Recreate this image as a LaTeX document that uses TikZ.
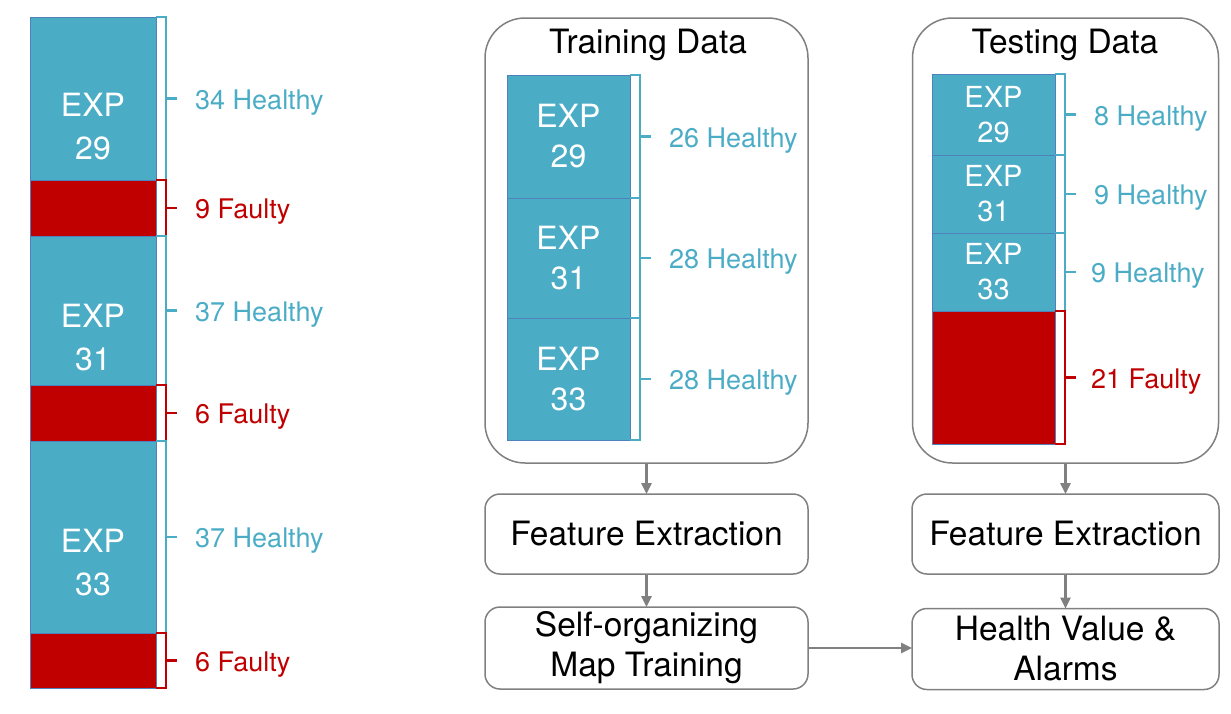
\documentclass[tikz,border=0pt]{standalone}
\usepackage{fontspec}
\setmainfont{TeX Gyre Heros}
\usetikzlibrary{arrows.meta}
\definecolor{expblue}{HTML}{4BACC6}
\definecolor{expedge}{HTML}{4F81BD}
\definecolor{faultred}{HTML}{C00000}
\definecolor{flowgray}{HTML}{808080}

\begin{document}
\begin{tikzpicture}[x=1pt,y=-1pt,>={Triangle[length=11pt,width=10pt]},draw=black!100]
	\useasboundingbox (0,0) rectangle (1231,713);
	\def \colx{93}
	\def \trainx{568.5}
	\def \testx{993.5}
	\def \flowl{646.5}
	\def \flowr{1065.5}
	\tikzstyle{exp-box}=[rectangle,fill=expblue,draw=expedge,line width=1pt,inner sep=0pt,outer sep=0pt,text=white,align=center]
	\tikzstyle{fault-box}=[rectangle,fill=faultred,draw=expedge,line width=0.8pt,inner sep=0pt,outer sep=0pt]
	\tikzstyle{data-box}=[rectangle,rounded corners=40pt,draw=flowgray,line width=1.5pt,fill=white,inner sep=0pt,outer sep=0pt]
	\tikzstyle{flow-box}=[rectangle,rounded corners=15pt,draw=flowgray,line width=1.5pt,inner sep=0pt,outer sep=0pt,align=center,font=\fontsize{33.5}{40}\selectfont]
	\tikzstyle{exp-text}=[text=white,align=center,inner sep=0pt]
	\tikzstyle{hlabel}=[text=expblue,anchor=west,inner sep=0pt,yshift=-4pt,font=\fontsize{27}{30}\selectfont]
	\tikzstyle{flabel}=[text=faultred,anchor=west,inner sep=0pt,yshift=-4pt,font=\fontsize{27}{30}\selectfont]
	\tikzstyle{title}=[inner sep=0pt,font=\fontsize{33.5}{36}\selectfont]
	\tikzstyle{flow}=[->,draw=flowgray,line width=2.5pt]
	% bracket: x, top, bottom, colour, tip name
	\def\brkt#1#2#3#4#5{%
		\draw[#4,line width=2.5pt] (#1,#2) -- ({#1+10},#2) -- ({#1+10},#3) -- (#1,#3);
		\draw[#4,line width=2.5pt] ({#1+10},{(#2+#3)/2}) -- ({#1+21},{(#2+#3)/2}) coordinate (#5);}

	% all experiments
	\node[exp-box,minimum width=126pt,minimum height=163pt] 	(all29)	at (\colx,98.5)	{};
	\node[fault-box,minimum width=126pt,minimum height=56pt] 	(allf29)	at (\colx,208)	{};
	\node[exp-box,minimum width=126pt,minimum height=149pt] 	(all31)	at (\colx,310.5)	{};
	\node[fault-box,minimum width=126pt,minimum height=56pt] 	(allf31)	at (\colx,413)	{};
	\node[exp-box,minimum width=126pt,minimum height=192pt] 	(all33)	at (\colx,537)	{};
	\node[fault-box,minimum width=126pt,minimum height=55pt] 	(allf33)	at (\colx,660.5)	{};
	\begin{scope}[font=\fontsize{32}{43}\selectfont]
	\node[exp-text] 	(all29-t)	at (\colx,127)	{EXP\\29};
	\node[exp-text] 	(all31-t)	at (\colx,338)	{EXP\\31};
	\node[exp-text] 	(all33-t)	at (\colx,563)	{EXP\\33};
	\end{scope}
	\brkt{156}{17}{180}{expblue}{all29-b}
	\brkt{156}{180}{236}{faultred}{allf29-b}
	\brkt{156}{236}{385}{expblue}{all31-b}
	\brkt{156}{385}{441}{faultred}{allf31-b}
	\brkt{156}{441}{633}{expblue}{all33-b}
	\brkt{156}{633}{688}{faultred}{allf33-b}
	\node[hlabel] 	(all29-n)	at ([xshift=18pt]all29-b)	{34 Healthy};
	\node[flabel] 	(allf29-n)	at ([xshift=18pt]allf29-b)	{9 Faulty};
	\node[hlabel] 	(all31-n)	at ([xshift=18pt]all31-b)	{37 Healthy};
	\node[flabel] 	(allf31-n)	at ([xshift=18pt]allf31-b)	{6 Faulty};
	\node[hlabel] 	(all33-n)	at ([xshift=18pt]all33-b)	{37 Healthy};
	\node[flabel] 	(allf33-n)	at ([xshift=18pt]allf33-b)	{6 Faulty};

	% training data
	\node[data-box,minimum width=323pt,minimum height=445pt] 	(train)	at (\flowl,240.5)	{};
	\node[title] 	(train-t)	at (648,45)	{Training Data};
	\begin{scope}[font=\fontsize{32}{40}\selectfont]
	\node[exp-box,minimum width=123pt,minimum height=123pt] 	(tr29)	at (\trainx,136.5)	{EXP\\29};
	\node[exp-box,minimum width=123pt,minimum height=120pt] 	(tr31)	at (\trainx,258)	{EXP\\31};
	\node[exp-box,minimum width=123pt,minimum height=122pt] 	(tr33)	at (\trainx,379)	{EXP\\33};
	\end{scope}
	\brkt{630}{75}{198}{expblue}{tr29-b}
	\brkt{630}{198}{318}{expblue}{tr31-b}
	\brkt{630}{318}{440}{expblue}{tr33-b}
	\node[hlabel] 	(tr29-n)	at ([xshift=18pt]tr29-b)	{26 Healthy};
	\node[hlabel] 	(tr31-n)	at ([xshift=18pt]tr31-b)	{28 Healthy};
	\node[hlabel] 	(tr33-n)	at ([xshift=18pt]tr33-b)	{28 Healthy};

	% testing data
	\node[data-box,minimum width=306pt,minimum height=445pt] 	(test)	at (\flowr,240.5)	{};
	\node[title] 	(test-t)	at (1065,45)	{Testing Data};
	\begin{scope}[font=\fontsize{29}{35}\selectfont]
	\node[exp-box,minimum width=123pt,minimum height=81pt] 	(te29)	at (\testx,114.5)	{EXP\\29};
	\node[exp-box,minimum width=123pt,minimum height=78pt] 	(te31)	at (\testx,194)	{EXP\\31};
	\node[exp-box,minimum width=123pt,minimum height=78pt] 	(te33)	at (\testx,272)	{EXP\\33};
	\end{scope}
	\node[fault-box,minimum width=123pt,minimum height=133pt] 	(tef)	at (\testx,377.5)	{};
	\brkt{1055}{74}{155}{expblue}{te29-b}
	\brkt{1055}{155}{233}{expblue}{te31-b}
	\brkt{1055}{233}{311}{expblue}{te33-b}
	\brkt{1055}{311}{444}{faultred}{tef-b}
	\node[hlabel] 	(te29-n)	at ([xshift=18pt]te29-b)	{8 Healthy};
	\node[hlabel] 	(te31-n)	at ([xshift=18pt]te31-b)	{9 Healthy};
	\node[hlabel] 	(te33-n)	at ([xshift=15pt]te33-b)	{9 Healthy};
	\node[flabel] 	(tef-n)	at ([xshift=15pt]tef-b)	{21 Faulty};

	% processing steps
	\node[flow-box,minimum width=323pt,minimum height=80pt] 	(fe-train)	at (\flowl,534)	{Feature Extraction};
	\node[flow-box,minimum width=323pt,minimum height=82pt] 	(som)	at (\flowl,648)	{Self-organizing\\Map Training};
	\node[flow-box,minimum width=307pt,minimum height=80pt] 	(fe-test)	at (\flowr,534)	{Feature Extraction};
	\node[flow-box,minimum width=307pt,minimum height=81pt] 	(hv)	at (\flowr,649)	{Health Value \&\\Alarms};
	\coordinate (hv-in) at (som.east -| hv.west);

	\draw[flow] (train) -- (fe-train);
	\draw[flow] (fe-train) -- (som);
	\draw[flow] (test) -- (fe-test);
	\draw[flow] (fe-test) -- (hv);
	\draw[flow] (som.east) -- (hv-in);

\end{tikzpicture}
\end{document}
